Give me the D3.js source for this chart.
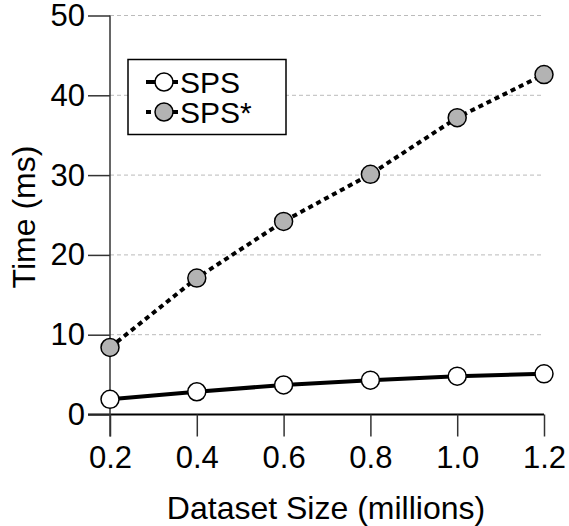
<!DOCTYPE html>
<html>
<head>
<meta charset="utf-8">
<script src="https://cdn.jsdelivr.net/npm/d3@7"></script>
<style>
  body { margin: 0; background: #fff; }
  text { font-family: "Liberation Sans", Arial, sans-serif; fill: #000; }
</style>
</head>
<body>
<script>
// Data
const sizes = [0.2, 0.4, 0.6, 0.8, 1.0, 1.2];
const spsTimes = [1.9, 2.85, 3.7, 4.3, 4.8, 5.1];
const spsStarTimes = [8.4, 17.1, 24.2, 30.1, 37.2, 42.6];
const yTicks = [0, 10, 20, 30, 40, 50];
const seriesNames = ["SPS", "SPS*"];

const width = 569, height = 526;
const svg = d3.select("body").append("svg")
  .attr("width", width)
  .attr("height", height);

// Scales
const x = d3.scaleLinear().domain([0.2, 1.2]).range([110, 544]);
const y = d3.scaleLinear().domain([0, 50]).range([414.5, 15.5]);

// Grid lines
svg.append("g")
  .selectAll("line")
  .data(yTicks.filter(d => d > 0))
  .enter()
  .append("line")
  .attr("x1", x(0.2))
  .attr("x2", 542)
  .attr("y1", d => y(d))
  .attr("y2", d => y(d))
  .attr("stroke", "#bbb")
  .attr("stroke-width", 1)
  .attr("stroke-dasharray", "4,3");

// Axes
const xAxis = d3.axisBottom(x)
  .tickValues(sizes)
  .tickFormat(d3.format(".1f"))
  .tickSize(22)
  .tickSizeOuter(0)
  .tickPadding(9);

const yAxis = d3.axisLeft(y)
  .tickValues(yTicks)
  .tickSize(22)
  .tickSizeOuter(0)
  .tickPadding(3);

const gx = svg.append("g")
  .attr("transform", `translate(0,${y(0)})`)
  .call(xAxis);
gx.select(".domain").attr("stroke", "#000").attr("stroke-width", 2)
  .attr("d", `M${x(0.2) - 22},0H${x(1.2)}`);
gx.selectAll(".tick line").attr("stroke", "#333").attr("stroke-width", 1.5);
gx.selectAll(".tick text").attr("font-size", 31).attr("fill", "#000");

const gy = svg.append("g")
  .attr("transform", `translate(${x(0.2)},0)`)
  .call(yAxis);
gy.select(".domain").attr("stroke", "#333").attr("stroke-width", 1.5)
  .attr("d", `M0,${y(50)}V${y(0) + 22}`);
gy.selectAll(".tick line").attr("stroke", "#333").attr("stroke-width", 1.5);
gy.selectAll(".tick text").attr("font-size", 31).attr("fill", "#000");

// Axis titles
svg.append("text")
  .attr("x", 326)
  .attr("y", 519)
  .attr("text-anchor", "middle")
  .attr("font-size", 32)
  .text("Dataset Size (millions)");

svg.append("text")
  .attr("transform", "translate(35,217) rotate(-90)")
  .attr("text-anchor", "middle")
  .attr("font-size", 32)
  .text("Time (ms)");

// Lines
const line = d3.line()
  .x((d, i) => x(sizes[i]))
  .y(d => y(d));

svg.append("path")
  .datum(spsStarTimes)
  .attr("d", line)
  .attr("fill", "none")
  .attr("stroke", "#000")
  .attr("stroke-width", 4)
  .attr("stroke-dasharray", "5,4");

svg.append("path")
  .datum(spsTimes)
  .attr("d", line)
  .attr("fill", "none")
  .attr("stroke", "#000")
  .attr("stroke-width", 4);

// Markers
svg.append("g")
  .selectAll("circle")
  .data(spsStarTimes)
  .enter()
  .append("circle")
  .attr("cx", (d, i) => x(sizes[i]))
  .attr("cy", d => y(d))
  .attr("r", 9)
  .attr("fill", "#b3b3b3")
  .attr("stroke", "#000")
  .attr("stroke-width", 1.5);

svg.append("g")
  .selectAll("circle")
  .data(spsTimes)
  .enter()
  .append("circle")
  .attr("cx", (d, i) => x(sizes[i]))
  .attr("cy", d => y(d))
  .attr("r", 9)
  .attr("fill", "#fff")
  .attr("stroke", "#000")
  .attr("stroke-width", 1.5);

// Legend
const legend = svg.append("g");
legend.append("rect")
  .attr("x", 128)
  .attr("y", 59.5)
  .attr("width", 158)
  .attr("height", 75)
  .attr("fill", "#fff")
  .attr("stroke", "#000")
  .attr("stroke-width", 1.5);

const legendRows = [
  { name: seriesNames[0], fill: "#fff", dash: null, yPos: 82 },
  { name: seriesNames[1], fill: "#b3b3b3", dash: "5,4", yPos: 112 }
];

legendRows.forEach(r => {
  legend.append("line")
    .attr("x1", 146)
    .attr("x2", 178)
    .attr("y1", r.yPos)
    .attr("y2", r.yPos)
    .attr("stroke", "#000")
    .attr("stroke-width", 4)
    .attr("stroke-dasharray", r.dash);
  legend.append("circle")
    .attr("cx", 164)
    .attr("cy", r.yPos)
    .attr("r", 9)
    .attr("fill", r.fill)
    .attr("stroke", "#000")
    .attr("stroke-width", 1.5);
  legend.append("text")
    .attr("x", 180)
    .attr("y", r.yPos)
    .attr("dy", "0.36em")
    .attr("font-size", 30)
    .text(r.name);
});
</script>
</body>
</html>
